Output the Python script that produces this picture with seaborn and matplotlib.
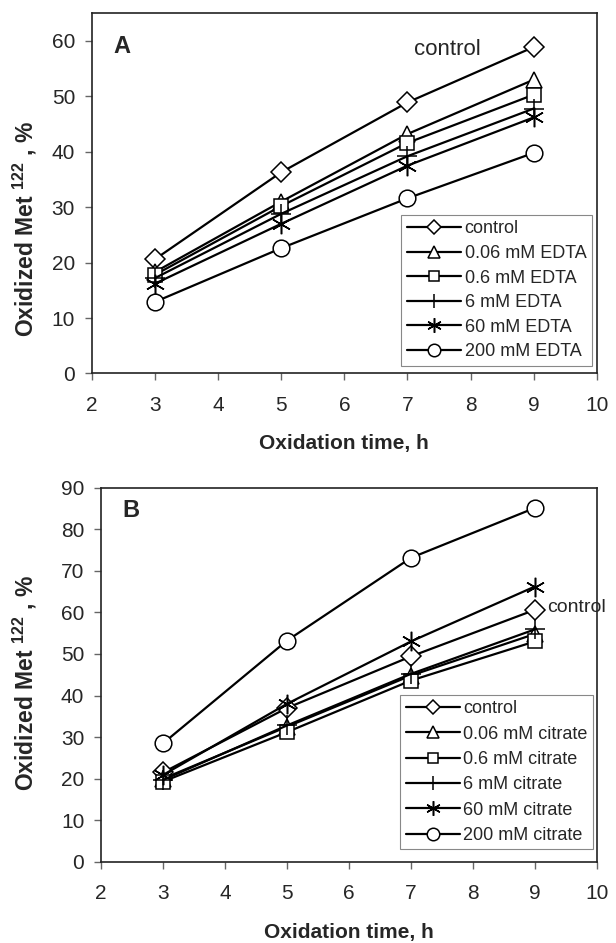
import matplotlib
matplotlib.use("Agg")
import matplotlib.pyplot as plt
import seaborn as sns
import pandas as pd

# oxidation time, h
hours = [3, 5, 7, 9]

# panel A - EDTA
edta_labels = ["control", "0.06 mM EDTA", "0.6 mM EDTA", "6 mM EDTA", "60 mM EDTA", "200 mM EDTA"]
edta_control = [20.6, 36.3, 48.9, 58.9]
edta_006 = [18.3, 31.0, 43.2, 53.0]
edta_06 = [17.8, 30.2, 41.6, 50.3]
edta_6 = [17.2, 28.8, 39.2, 47.8]
edta_60 = [16.2, 27.0, 37.5, 46.2]
edta_200 = [12.9, 22.6, 31.6, 39.8]

# panel B - citrate
cit_labels = ["control", "0.06 mM citrate", "0.6 mM citrate", "6 mM citrate", "60 mM citrate", "200 mM citrate"]
cit_control = [21.5, 37.0, 49.4, 60.6]
cit_006 = [20.0, 32.5, 44.8, 54.8]
cit_06 = [19.3, 31.2, 43.6, 53.0]
cit_6 = [19.7, 32.8, 45.2, 55.9]
cit_60 = [20.9, 38.0, 53.0, 66.2]
cit_200 = [28.5, 53.2, 73.1, 85.1]

markers = ["D", "^", "s", "+", (6, 2, 0), "o"]
msizes = [10, 11, 10, 14, 14, 12]

sns.set_style("ticks")
plt.rcParams["font.family"] = ["Liberation Sans", "DejaVu Sans"]
plt.rcParams["mathtext.default"] = "regular"

fig = plt.figure(figsize=(6.16, 9.43), dpi=100)
axA = fig.add_axes([0.149, 0.604, 0.820, 0.382])
axB = fig.add_axes([0.164, 0.086, 0.805, 0.397])


def draw(ax, labels, series):
    for lab, vals, m, ms in zip(labels, series, markers, msizes):
        df = pd.DataFrame({"t": hours, "y": vals})
        sns.lineplot(data=df, x="t", y="y", ax=ax, color="black", lw=1.6,
                     marker=m, markersize=ms, markerfacecolor="white",
                     markeredgecolor="black", markeredgewidth=1.1, label=lab)
    ax.set_xlim(2, 10)
    ax.set_xticks(range(2, 11))
    for s in ax.spines.values():
        s.set_linewidth(1.2)
        s.set_color("#222222")
    ax.tick_params(labelsize=15, length=5, width=1, color="#666666")
    ax.tick_params(axis="x", pad=11)
    ax.tick_params(axis="y", pad=7)
    ax.set_xlabel("Oxidation time, h", fontsize=15, fontweight="bold", labelpad=14)
    ax.set_ylabel("Oxidized Met $^{122}$ , %", fontsize=16.5, fontweight="bold")


draw(axA, edta_labels, [edta_control, edta_006, edta_06, edta_6, edta_60, edta_200])
axA.set_ylim(0, 65)
axA.set_yticks(range(0, 61, 10))
axA.text(2.35, 59, "A", fontsize=17, fontweight="bold", va="center")
axA.text(7.1, 58.4, "control", fontsize=16, va="center")
axA.yaxis.set_label_coords(-0.105, 0.40)
legA = axA.legend(loc="upper left", bbox_to_anchor=(0.595, 0.465), fontsize=13,
                  frameon=True, fancybox=False, edgecolor="#888888", framealpha=1,
                  handlelength=3.0, labelspacing=0.42, borderpad=0.3, markerscale=0.75,
                  handletextpad=0.2)
legA.get_frame().set_linewidth(0.8)

draw(axB, cit_labels, [cit_control, cit_006, cit_06, cit_6, cit_60, cit_200])
axB.set_ylim(0, 90)
axB.set_yticks(range(0, 91, 10))
axB.text(2.35, 84.4, "B", fontsize=17, fontweight="bold", va="center")
axB.text(9.19, 61.1, "control", fontsize=14, va="center", clip_on=False)
axB.yaxis.set_label_coords(-0.125, 0.479)
legB = axB.legend(loc="upper left", bbox_to_anchor=(0.585, 0.47), fontsize=13,
                  frameon=True, fancybox=False, edgecolor="#888888", framealpha=1,
                  handlelength=3.0, labelspacing=0.46, borderpad=0.3, markerscale=0.75,
                  handletextpad=0.2)
legB.get_frame().set_linewidth(0.8)

fig.savefig("out.png", dpi=100)
